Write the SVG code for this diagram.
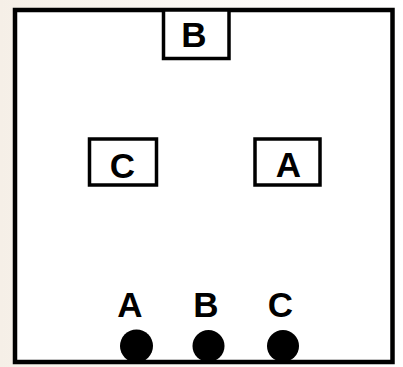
<svg xmlns="http://www.w3.org/2000/svg" width="403" height="367" viewBox="0 0 403 367">
  <defs>
    <linearGradient id="bg" x1="0" y1="0" x2="1" y2="0">
      <stop offset="0" stop-color="#f5efe7"/>
      <stop offset="0.5" stop-color="#fbf8f4"/>
      <stop offset="1" stop-color="#ffffff"/>
    </linearGradient>
  </defs>
  <style>
    .box { fill: #ffffff; stroke: #000000; stroke-width: 3.5; }
    .lbl { font-family: "Liberation Sans", Arial, sans-serif; font-weight: bold; font-size: 35px; fill: #000000; text-anchor: middle; }
    .pin { fill: #000000; }
  </style>
  <rect x="0" y="0" width="403" height="367" fill="url(#bg)"/>
  <g id="frame">
    <rect x="15" y="10" width="377.5" height="352" fill="#ffffff" stroke="#000000" stroke-width="4.5"/>
  </g>
  <g id="connectors"></g>
  <g id="node-B-top">
    <rect class="box" x="163.5" y="10" width="65.5" height="48.5"/>
    <text class="lbl" x="194" y="47">B</text>
  </g>
  <g id="node-C-box">
    <rect class="box" x="89.5" y="139" width="67" height="46"/>
    <text class="lbl" x="122.5" y="178">C</text>
  </g>
  <g id="node-A-box">
    <rect class="box" x="255" y="139" width="65" height="46"/>
    <text class="lbl" x="288.5" y="177">A</text>
  </g>
  <g id="pin-A">
    <text class="lbl" x="130" y="317">A</text>
    <circle class="pin" cx="136.5" cy="346" r="16.5"/>
  </g>
  <g id="pin-B">
    <text class="lbl" x="206" y="317">B</text>
    <circle class="pin" cx="208.5" cy="346" r="16"/>
  </g>
  <g id="pin-C">
    <text class="lbl" x="280.5" y="317">C</text>
    <circle class="pin" cx="283" cy="346" r="16"/>
  </g>
</svg>
